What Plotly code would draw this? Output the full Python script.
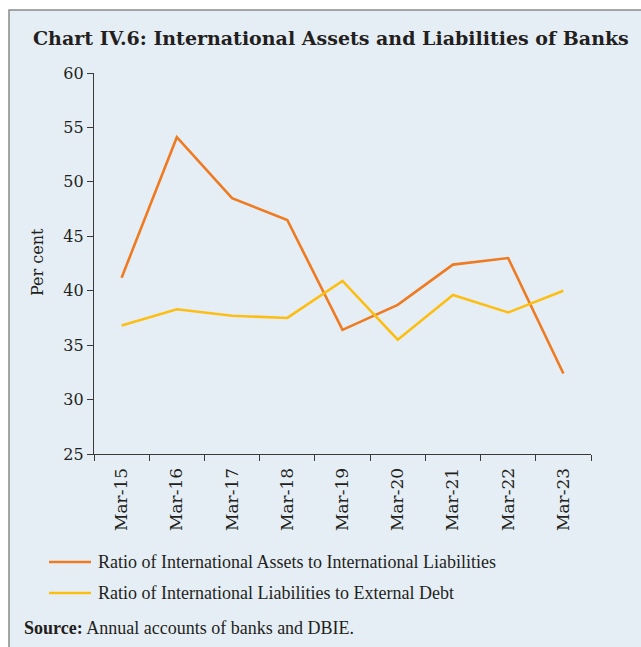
import plotly.graph_objects as go

# Fiscal year-end labels
periods = ["Mar-15", "Mar-16", "Mar-17", "Mar-18", "Mar-19",
           "Mar-20", "Mar-21", "Mar-22", "Mar-23"]

# Ratios, per cent
assets_to_liabilities = [41.2, 54.1, 48.5, 46.5, 36.4, 38.7, 42.4, 43.0, 32.4]
liabilities_to_ext_debt = [36.8, 38.3, 37.7, 37.5, 40.9, 35.5, 39.6, 38.0, 40.0]

series_names = [
    "Ratio of International Assets to International Liabilities",
    "Ratio of International Liabilities to External Debt",
]
series_colors = ["#EE7B22", "#FDBE14"]

y_ticks = [25, 30, 35, 40, 45, 50, 55, 60]

W, H = 641, 647
L, R, T, B = 94, 50, 73, 193
PW, PH = W - L - R, H - T - B

BG = "#E6EEF5"
AXIS = "#3a3a3a"
TEXT = "#231f20"
SERIF = "DejaVu Serif"


def px_x(p):
    return (p - L) / PW


def px_y(p):
    return (H - B - p) / PH


fig = go.Figure()
for name, vals, col in zip(series_names,
                           [assets_to_liabilities, liabilities_to_ext_debt],
                           series_colors):
    fig.add_trace(go.Scatter(
        x=periods, y=vals, mode="lines", name=name,
        line=dict(color=col, width=2.6), showlegend=False,
    ))

shapes = [
    # panel background with border on the top and left
    dict(type="rect", xref="paper", yref="paper", layer="below",
         x0=px_x(9), x1=px_x(W + 20), y0=px_y(H + 20), y1=px_y(10),
         fillcolor=BG, line=dict(color="#8a8a8a", width=1.5)),
]

annotations = []
# legend rows
for i, (name, col) in enumerate(zip(series_names, series_colors)):
    yc = 562 + i * 31
    shapes.append(dict(type="line", xref="paper", yref="paper",
                       x0=px_x(49), x1=px_x(91), y0=px_y(yc), y1=px_y(yc),
                       line=dict(color=col, width=2.6)))
    annotations.append(dict(
        text=name, xref="paper", yref="paper", x=px_x(96), y=px_y(yc),
        xanchor="left", yanchor="middle", showarrow=False,
        font=dict(family="Liberation Serif", size=18, color=TEXT)))

annotations.append(dict(
    text="<b>Source:</b> Annual accounts of banks and DBIE.",
    xref="paper", yref="paper", x=px_x(22), y=px_y(628),
    xanchor="left", yanchor="middle", showarrow=False,
    font=dict(family="Liberation Serif", size=18, color=TEXT)))

annotations.append(dict(
    text="Per cent", xref="paper", yref="paper", x=px_x(37), y=px_y(262),
    xanchor="center", yanchor="middle", textangle=-90, showarrow=False,
    font=dict(family=SERIF, size=16, color=TEXT)))

fig.update_layout(
    width=W, height=H,
    margin=dict(l=L, r=R, t=T, b=B, autoexpand=False),
    paper_bgcolor="white",
    plot_bgcolor="rgba(0,0,0,0)",
    title=dict(
        text="<b>Chart IV.6: International Assets and Liabilities of Banks</b>",
        x=33 / W, xref="container", xanchor="left",
        y=1 - 38 / H, yref="container", yanchor="middle",
        font=dict(family=SERIF, size=19, color=TEXT)),
    shapes=shapes,
    annotations=annotations,
    xaxis=dict(
        type="category", categoryorder="array", categoryarray=periods,
        range=[-0.5, len(periods) - 0.5],
        tickson="boundaries", ticks="outside", ticklen=6, tickwidth=1,
        tickcolor=AXIS, tickangle=-90, ticklabelstandoff=6,
        showline=True, linecolor=AXIS, linewidth=1.2,
        showgrid=False, zeroline=False,
        tickfont=dict(family=SERIF, size=17, color=TEXT),
    ),
    yaxis=dict(
        range=[25, 60], tickvals=y_ticks,
        ticks="outside", ticklen=6, tickwidth=1, tickcolor=AXIS,
        showline=True, linecolor=AXIS, linewidth=1.2,
        showgrid=False, zeroline=False,
        tickfont=dict(family=SERIF, size=16, color=TEXT),
    ),
)

fig.write_html("out.html")
